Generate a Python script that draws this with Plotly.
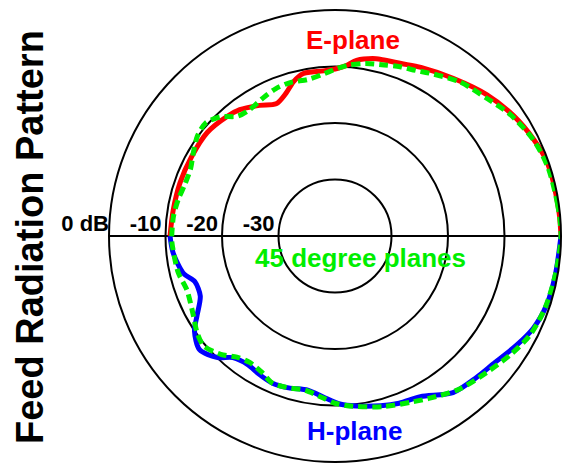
import plotly.graph_objects as go

# Measured feed pattern cuts: angle (deg, 0 = boresight to the right) and level (dB)
e_theta = [0, 5, 10, 15, 20, 26, 34, 43, 53, 63, 69, 75, 78, 83, 86, 89, 94, 98, 101,
           105, 109, 114, 120, 127, 132, 141, 151, 161, 171, 180]
e_db = [0, -0.1, -0.2, -0.2, -0.3, -0.9, -1.9, -3.3, -5.1, -6.5, -7.3, -7.7, -7.9, -8.7,
        -9.7, -10.3, -10.7, -10.7, -10.7, -11.7, -13.3, -14.4, -13.3, -12.0, -11.5, -10.9,
        -11.0, -11.0, -11.0, -10.8]

h_theta = [180, 186, 194, 198, 204, 210, 214, 220, 226, 230, 236, 241, 247, 253, 260,
           266, 272, 277, 285, 291, 298, 307, 315, 321, 329, 335, 342, 350, 360]
h_db = [-10.8, -11.2, -12.4, -13.9, -13.9, -11.8, -10.0, -8.7, -10.1, -11.9, -12.5, -12.1,
        -11.7, -11.9, -12.3, -11.4, -10.2, -9.7, -8.9, -8.3, -7.8, -5.3, -4.6, -4.0, -2.5,
        -1.3, -0.6, -0.4, 0]

d45_theta = [0, 8, 18, 26, 35, 42, 51, 60, 64, 69, 74, 80, 85, 89, 95, 100, 106, 112, 118,
             124, 129, 134, 139, 144, 150, 155, 161, 167, 173, 180, 182, 193, 200, 209, 215,
             220, 226, 231, 236, 242, 247, 253, 259, 265, 270, 276, 286, 295, 300, 309, 318,
             326, 333, 341, 350, 360]
d45_db = [0, -0.2, -0.4, -1.0, -2.3, -3.7, -4.9, -6.7, -7.4, -7.9, -8.5, -9.0, -9.6, -10.3,
          -11.4, -11.9, -11.7, -11.9, -12.5, -13.0, -12.7, -10.7, -9.6, -9.9, -11.0, -11.8,
          -11.9, -11.5, -11.2, -11.1, -11.1, -11.5, -12.1, -11.3, -10.2, -9.7, -10.9, -12.4,
          -13.0, -12.6, -11.7, -11.9, -12.2, -11.4, -10.4, -9.7, -8.6, -7.6, -6.8, -5.1,
          -3.9, -2.5, -1.3, -0.7, -0.4, 0]

# Level rings and their labels
ring_db = [0, -10, -20, -30]
ring_text = ["0 dB", "-10", "-20", "-30"]
r_min, r_max = -40, 0
label_gap_db = 0.7   # labels sit a little outside their ring

FONT = "Arial, Liberation Sans, sans-serif"
RED = "#ff0000"
BLUE = "#0000ff"
GREEN = "#00ee00"

fig = go.Figure()

fig.add_trace(go.Scatterpolar(
    r=e_db, theta=e_theta, mode="lines", cliponaxis=False,
    line=dict(color=RED, width=5, shape="spline", smoothing=0.8),
    hoverinfo="skip"))
fig.add_trace(go.Scatterpolar(
    r=h_db, theta=h_theta, mode="lines", cliponaxis=False,
    line=dict(color=BLUE, width=5, shape="spline", smoothing=0.8),
    hoverinfo="skip"))
fig.add_trace(go.Scatterpolar(
    r=d45_db, theta=d45_theta, mode="lines", cliponaxis=False,
    line=dict(color=GREEN, width=5, dash="9px,5px", shape="spline", smoothing=0.8),
    hoverinfo="skip"))

# Ring labels, above the horizontal axis on the left side
fig.add_trace(go.Scatterpolar(
    r=[min(v + label_gap_db, r_max) for v in ring_db], theta=[180] * len(ring_db),
    mode="text", cliponaxis=False,
    text=ring_text, textposition="top left",
    textfont=dict(family=FONT, size=22, color="black", weight="bold"),
    hoverinfo="skip"))

W, H = 563, 464
cx, cy, R = 335, 236, 226

fig.update_layout(
    width=W, height=H,
    margin=dict(l=0, r=0, t=0, b=0),
    paper_bgcolor="white",
    showlegend=False,
    polar=dict(
        domain=dict(x=[(cx - R) / W, (cx + R) / W],
                    y=[(H - cy - R) / H, (H - cy + R) / H]),
        bgcolor="white",
        radialaxis=dict(
            range=[r_min, r_max], tickvals=ring_db[1:], showticklabels=False, ticks="",
            showline=False, showgrid=True, gridcolor="black", gridwidth=2),
        angularaxis=dict(
            rotation=0, direction="counterclockwise",
            tickvals=[0, 180], showticklabels=False, ticks="",
            showgrid=True, gridcolor="black", gridwidth=2,
            showline=True, linecolor="black", linewidth=2),
    ),
    annotations=[
        dict(text="Feed Radiation Pattern", x=30 / W, y=(H - 237) / H,
             xref="paper", yref="paper", showarrow=False, textangle=-90,
             xanchor="center", yanchor="middle",
             font=dict(family=FONT, size=38, color="black", weight="bold")),
        dict(text="E-plane", x=353 / W, y=(H - 40) / H,
             xref="paper", yref="paper", showarrow=False,
             xanchor="center", yanchor="middle",
             font=dict(family=FONT, size=26, color=RED, weight="bold")),
        dict(text="H-plane", x=354 / W, y=(H - 431) / H,
             xref="paper", yref="paper", showarrow=False,
             xanchor="center", yanchor="middle",
             font=dict(family=FONT, size=26, color=BLUE, weight="bold")),
        dict(text="45 degree planes", x=360 / W, y=(H - 258) / H,
             xref="paper", yref="paper", showarrow=False,
             xanchor="center", yanchor="middle",
             font=dict(family=FONT, size=26, color=GREEN, weight="bold")),
    ],
)

fig.write_html("out.html")
